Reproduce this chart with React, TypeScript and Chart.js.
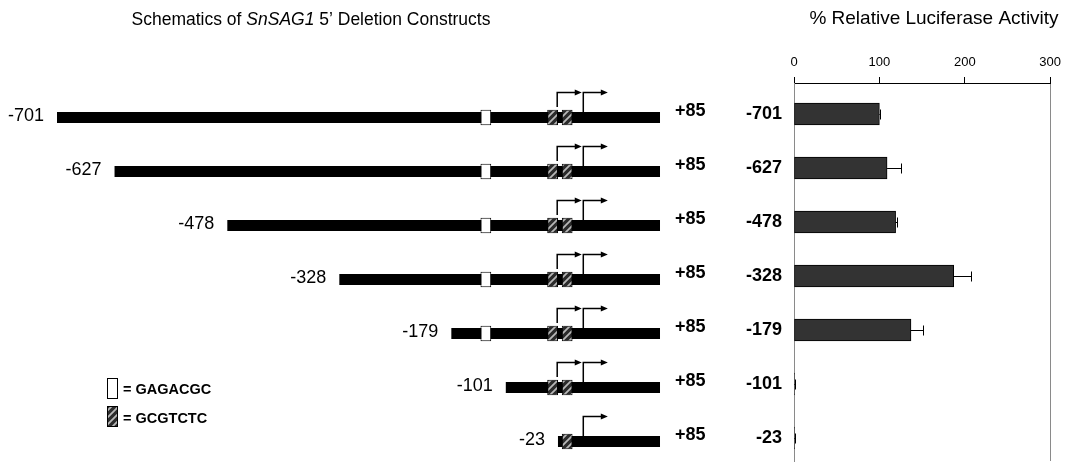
import React, { useEffect, useRef } from "react";
import { Chart, registerables } from "chart.js";

Chart.register(...registerables);

const FONT = "'Liberation Sans', Arial, Helvetica, sans-serif";

// ---- Schematic data (nucleotide positions) ----
const constructLabels = ["-701", "-627", "-478", "-328", "-179", "-101", "-23"];
// left ends of the drawn constructs, read off the (not-to-scale) schematic
const drawnStart = [-701, -626, -479, -333, -187, -116, -48];
const constructEnd = 85;
const endLabel = "+85";
const whiteMotif = [-149, -135];
const hatchedMotifs = [
  [-62, -48],
  [-43, -29],
];
// [position of the vertical stem, arrow tip]
const tssArrows = [
  [-49, -17],
  [-15, 17],
];
const motifNames = ["= GAGACGC", "= GCGTCTC"];

// ---- Luciferase data ----
const activity = [100, 109, 119, 187, 137, 0.5, 0.5];
const activityErr = [1, 16, 2, 20, 14, 0.5, 0.5];
const activityTicks = [0, 100, 200, 300];

const leftTitleParts: [string, boolean][] = [
  ["Schematics of ", false],
  ["SnSAG1", true],
  [" 5\u2019 Deletion Constructs", false],
];
const rightTitle = "% Relative Luciferase Activity";

function makeHatch(): CanvasPattern | string {
  const c = document.createElement("canvas");
  c.width = 7;
  c.height = 7;
  const g = c.getContext("2d");
  if (!g) return "#555";
  g.fillStyle = "#2b2b2b";
  g.fillRect(0, 0, 7, 7);
  g.strokeStyle = "#b8b8b8";
  g.lineWidth = 1.8;
  g.beginPath();
  g.moveTo(-1, 8);
  g.lineTo(8, -1);
  g.moveTo(-2, 2);
  g.lineTo(2, -2);
  g.moveTo(5, 9);
  g.lineTo(9, 5);
  g.stroke();
  const p = g.createPattern(c, "repeat");
  return p || "#555";
}

export default function App() {
  const leftRef = useRef<HTMLCanvasElement | null>(null);
  const rightRef = useRef<HTMLCanvasElement | null>(null);

  useEffect(() => {
    const hatch = makeHatch();
    const rows = constructLabels.map((_, i) => i);
    const present = (start: number, i: number) => start > drawnStart[i];

    const schematicPlugin = {
      id: "schematicDecor",
      afterDatasetsDraw(chart: any) {
        const ctx = chart.ctx as CanvasRenderingContext2D;
        const xs = chart.scales.x;
        const ys = chart.scales.y;
        ctx.save();
        // title
        ctx.fillStyle = "#000";
        ctx.textBaseline = "middle";
        ctx.textAlign = "left";
        let total = 0;
        leftTitleParts.forEach(([t, it]) => {
          ctx.font = `${it ? "italic " : ""}17.5px ${FONT}`;
          total += ctx.measureText(t).width;
        });
        let tx = 311 - total / 2;
        leftTitleParts.forEach(([t, it]) => {
          ctx.font = `${it ? "italic " : ""}17.5px ${FONT}`;
          ctx.fillText(t, tx, 20);
          tx += ctx.measureText(t).width;
        });
        // arrows & labels
        ctx.strokeStyle = "#000";
        ctx.lineWidth = 1.5;
        rows.forEach((i) => {
          const yc = ys.getPixelForValue(i);
          tssArrows.forEach(([at, tip]) => {
            if (!present(at, i)) return;
            const inBox = hatchedMotifs.some(
              (m) => present(m[0], i) && at >= m[0] && at <= m[1]
            );
            const y0 = yc - (inBox ? 10.5 : 5.5);
            const yTop = yc - 25;
            const x0 = xs.getPixelForValue(at);
            const x1 = xs.getPixelForValue(tip);
            ctx.beginPath();
            ctx.moveTo(x0, y0);
            ctx.lineTo(x0, yTop);
            ctx.lineTo(x1 - 5, yTop);
            ctx.stroke();
            ctx.beginPath();
            ctx.moveTo(x1, yTop);
            ctx.lineTo(x1 - 7, yTop - 3);
            ctx.lineTo(x1 - 7, yTop + 3);
            ctx.closePath();
            ctx.fill();
          });
          ctx.font = `18px ${FONT}`;
          ctx.textAlign = "right";
          ctx.fillText(constructLabels[i], xs.getPixelForValue(drawnStart[i]) - 13, yc - 1);
          ctx.font = `bold 18px ${FONT}`;
          ctx.textAlign = "left";
          ctx.fillText(endLabel, xs.getPixelForValue(constructEnd) + 15, yc - 6);
        });
        // legend
        ctx.lineWidth = 1;
        ctx.fillStyle = "#fff";
        ctx.fillRect(107.5, 378.5, 10, 20);
        ctx.strokeRect(107.5, 378.5, 10, 20);
        ctx.fillStyle = hatch as any;
        ctx.fillRect(107.5, 406.5, 10, 20);
        ctx.strokeRect(107.5, 406.5, 10, 20);
        ctx.fillStyle = "#000";
        ctx.font = `bold 14.5px ${FONT}`;
        ctx.textAlign = "left";
        ctx.fillText(motifNames[0], 123, 390);
        ctx.fillText(motifNames[1], 123, 419);
        ctx.restore();
      },
    };

    const boxOpts = {
      grouped: false,
      borderColor: "#000",
      borderWidth: 1,
      borderSkipped: false as const,
      maxBarThickness: 21,
      order: 1,
    };

    const left = new Chart(leftRef.current as HTMLCanvasElement, {
      type: "bar",
      data: {
        datasets: [
          {
            ...boxOpts,
            data: rows.filter((i) => present(whiteMotif[0], i)).map((i) => ({ x: whiteMotif, y: i })),
            backgroundColor: "#ffffff",
          } as any,
          ...hatchedMotifs.map(
            (m) =>
              ({
                ...boxOpts,
                data: rows.filter((i) => present(m[0], i)).map((i) => ({ x: m, y: i })),
                backgroundColor: hatch,
              } as any)
          ),
          {
            data: rows.map((i) => ({ x: [drawnStart[i], constructEnd], y: i })),
            backgroundColor: "#000",
            borderWidth: 0,
            grouped: false,
            maxBarThickness: 11,
            order: 5,
          } as any,
        ],
      },
      options: {
        indexAxis: "y",
        animation: false,
        responsive: false,
        maintainAspectRatio: false,
        events: [],
        layout: { padding: 0 },
        plugins: { legend: { display: false }, tooltip: { enabled: false } },
        scales: {
          x: { type: "linear", display: false, offset: false, min: -775.3, max: 163.2 },
          y: { type: "linear", display: false, offset: false, reverse: true, min: -2.176, max: 6.398 },
        },
      },
      plugins: [schematicPlugin],
    });

    const rightPlugin = {
      id: "errAndTitle",
      afterDatasetsDraw(chart: any) {
        const ctx = chart.ctx as CanvasRenderingContext2D;
        const xs = chart.scales.x;
        const ys = chart.scales.y;
        ctx.save();
        ctx.strokeStyle = "#000";
        ctx.lineWidth = 1;
        activity.forEach((v, i) => {
          const y = Math.round(ys.getPixelForValue(i)) + 0.5;
          const x0 = xs.getPixelForValue(v);
          const x1 = Math.round(xs.getPixelForValue(v + activityErr[i])) + 0.5;
          ctx.beginPath();
          ctx.moveTo(x0, y);
          ctx.lineTo(x1, y);
          ctx.moveTo(x1, y - 5);
          ctx.lineTo(x1, y + 5);
          ctx.stroke();
        });
        ctx.fillStyle = "#000";
        ctx.font = `19px ${FONT}`;
        ctx.textAlign = "center";
        ctx.textBaseline = "middle";
        ctx.fillText(rightTitle, 214, 19);
        ctx.restore();
      },
    };

    const right = new Chart(rightRef.current as HTMLCanvasElement, {
      type: "bar",
      data: {
        datasets: [
          {
            data: activity.map((v, i) => ({ x: v, y: i })),
            backgroundColor: "#333333",
            borderColor: "#000",
            borderWidth: 1,
            borderSkipped: false,
            barThickness: 22,
          } as any,
        ],
      },
      options: {
        indexAxis: "y",
        animation: false,
        responsive: false,
        maintainAspectRatio: false,
        events: [],
        layout: { padding: { top: 30, right: 15, bottom: 2, left: 0 } },
        plugins: { legend: { display: false }, tooltip: { enabled: false } },
        scales: {
          x: {
            type: "linear",
            position: "top",
            offset: false,
            min: 0,
            max: 300,
            afterBuildTicks: (s: any) => {
              s.ticks = activityTicks.map((v) => ({ value: v }));
            },
            afterFit: (s: any) => {
              s.height = 53;
            },
            ticks: { color: "#000", padding: 7, font: { family: FONT, size: 13 } },
            grid: {
              offset: false,
              color: (c: any) => (c.tick && c.tick.value === 300 ? "#8a8a8a" : "rgba(0,0,0,0)"),
              tickColor: "#000",
              tickLength: 6,
              lineWidth: 1,
            },
            border: { color: "#000", width: 1 },
          },
          y: {
            type: "linear",
            reverse: true,
            offset: false,
            min: -0.574,
            max: 6.426,
            afterBuildTicks: (s: any) => {
              s.ticks = constructLabels.map((_, i) => ({ value: i }));
            },
            afterFit: (s: any) => {
              s.width = 74;
              s.paddingTop = 0;
              s.paddingBottom = 0;
            },
            ticks: {
              color: "#000",
              padding: 12,
              font: { family: FONT, size: 18, weight: "bold" },
              callback: (v: any) => constructLabels[v] ?? "",
            },
            grid: { display: false, drawTicks: false, offset: false },
            border: { color: "#8a8a8a", width: 1 },
          },
        },
      },
      plugins: [rightPlugin],
    });

    return () => {
      left.destroy();
      right.destroy();
    };
  }, []);

  return (
    <div style={{ position: "fixed", left: 0, top: 0, width: 1068, height: 463, background: "#fff" }}>
      <canvas
        ref={leftRef}
        width={720}
        height={463}
        style={{ position: "absolute", left: 0, top: 0, width: 720, height: 463 }}
      />
      <canvas
        ref={rightRef}
        width={348}
        height={463}
        style={{ position: "absolute", left: 720, top: 0, width: 348, height: 463 }}
      />
    </div>
  );
}
